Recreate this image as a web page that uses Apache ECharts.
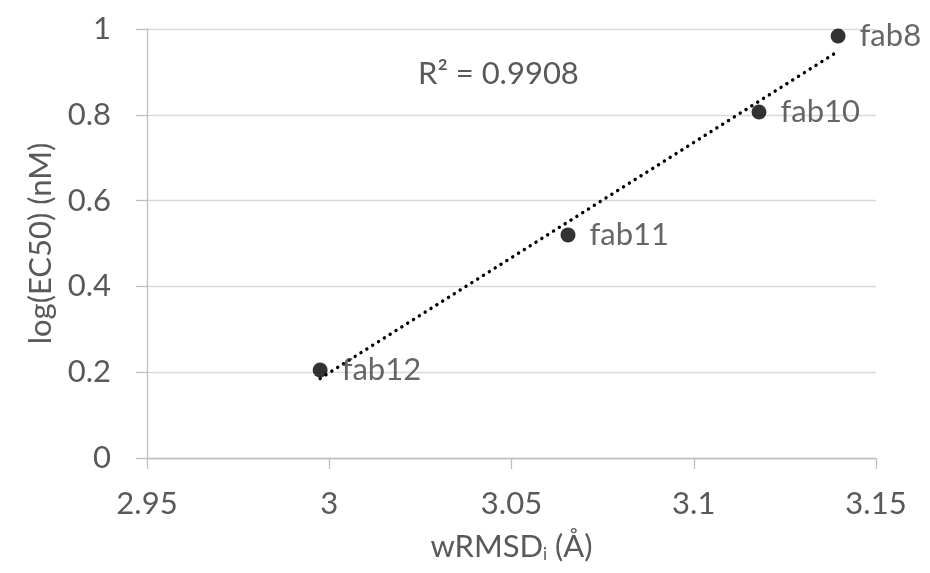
<!DOCTYPE html>
<html><head><meta charset="utf-8">
<script src="https://cdn.jsdelivr.net/npm/echarts@6/dist/echarts.min.js"></script>
<style>html,body{margin:0;padding:0;background:#fff}#c{width:930px;height:573px}</style>
</head><body><div id="c"></div>
<script>
const names = ['fab12', 'fab11', 'fab10', 'fab8'];
const xVals = [2.9975, 3.0655, 3.1179, 3.1396];
const yVals = [0.205, 0.52, 0.8065, 0.9837];
const xTicks = [2.95, 3.0, 3.05, 3.1, 3.15];
const yTicks = [0, 0.2, 0.4, 0.6, 0.8, 1];
const r2Text = 'R² = 0.9908';

// linear regression from the data
const n = xVals.length;
const mx = xVals.reduce((a,b)=>a+b,0)/n, my = yVals.reduce((a,b)=>a+b,0)/n;
let sxy=0, sxx=0;
for (let i=0;i<n;i++){ sxy+=(xVals[i]-mx)*(yVals[i]-my); sxx+=(xVals[i]-mx)**2; }
const slope = sxy/sxx, icpt = my - slope*mx;
const xmin = Math.min(...xVals), xmax = Math.max(...xVals);
const trend = [[xmin, icpt+slope*xmin],[xmax, icpt+slope*xmax]];

const FONT = 'Lato';
const FS = 31;
const TXT = '#595959';
const chart = echarts.init(document.getElementById('c'));
chart.setOption({
  animation:false,
  textStyle:{fontFamily:FONT},
  grid:{left:147,right:54,top:29,bottom:115},
  xAxis:{type:'value',min:2.95,max:3.15,interval:0.05,
    axisLine:{show:true,onZero:false,lineStyle:{color:'#bfbfbf',width:1.3}},
    axisTick:{show:true,length:11,lineStyle:{color:'#bfbfbf',width:1.3}},
    splitLine:{show:false},
    axisLabel:{color:TXT,fontSize:FS,fontFamily:FONT,margin:30,
      formatter:v=>{const t=xTicks.find(k=>Math.abs(k-v)<1e-6);return t===undefined?'':String(t);}},
    name:'wRMSD{sub|i} (Å)',nameLocation:'middle',nameGap:72,
    nameTextStyle:{color:TXT,fontSize:FS,fontFamily:FONT,rich:{sub:{fontSize:17,color:TXT,fontFamily:FONT,verticalAlign:'bottom',padding:[16,0,0,0]}}}
  },
  yAxis:{type:'value',min:0,max:1,interval:0.2,
    axisLine:{show:true,lineStyle:{color:'#bfbfbf',width:1.3}},
    axisTick:{show:true,length:11,lineStyle:{color:'#bfbfbf',width:1.3}},
    splitLine:{show:true,lineStyle:{color:'#d9d9d9',width:1.3}},
    axisLabel:{color:TXT,fontSize:FS,fontFamily:FONT,margin:36,
      formatter:v=>{const t=yTicks.find(k=>Math.abs(k-v)<1e-6);return t===undefined?'':String(t);}},
    name:'log(EC50) (nM)',nameLocation:'middle',nameGap:90,
    nameTextStyle:{color:TXT,fontSize:FS,fontFamily:FONT}
  },
  graphic:[{type:'text',left:418,top:58,style:{text:r2Text,fill:TXT,font:FS+'px '+FONT}}],
  series:[
    {type:'line',data:trend,symbol:'none',silent:true,z:1,
      lineStyle:{color:'#000',width:3.4,type:[0.1,6.8],cap:'round'}},
    {type:'scatter',z:2,symbol:'circle',symbolSize:15,
      itemStyle:{color:'#000'},
      data:xVals.map((x,i)=>({value:[x,yVals[i]],name:names[i]})),
      label:{show:true,position:'right',distance:14,formatter:p=>p.name,
        color:'#404040',fontSize:FS,fontFamily:FONT}}
  ]
});
</script></body></html>
